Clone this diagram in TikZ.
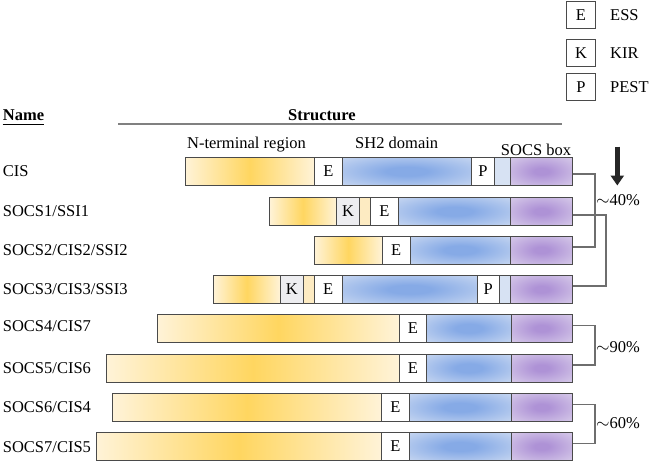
\documentclass[tikz,border=0pt]{standalone}
\usepackage{fontspec}
\setmainfont{Liberation Serif}
\usetikzlibrary{arrows.meta}
\definecolor{yelIn}{HTML}{FFD660}
\definecolor{yelOut}{HTML}{FFF3D8}
\definecolor{bluIn}{HTML}{86AAE6}
\definecolor{bluOut}{HTML}{D9E3F4}
\definecolor{purIn}{HTML}{AE92D6}
\definecolor{purOut}{HTML}{DFD6ED}
\definecolor{edgeC}{HTML}{4A4A4A}
\definecolor{brkC}{HTML}{6E6E6E}
\definecolor{kirC}{HTML}{EDEDF0}
\definecolor{ystripC}{HTML}{FDEBC2}
\definecolor{bstripC}{HTML}{D7E2F3}
\pgfdeclareradialshading{blurad}{\pgfpointorigin}{color(0bp)=(bluIn); color(8bp)=(bluIn); color(44bp)=(bluOut); color(50bp)=(bluOut)}
\pgfdeclareradialshading{purrad}{\pgfpointorigin}{color(0bp)=(purIn); color(6bp)=(purIn); color(42bp)=(purOut); color(50bp)=(purOut)}
\tikzset{
  seg/.style={draw=edgeC, line width=0.9pt, inner sep=0pt, outer sep=0pt, minimum height=28pt, anchor=north west},
  yel/.style={left color=yelOut, right color=yelOut, middle color=yelIn},
  blu/.style={shade, shading=blurad},
  pur/.style={shade, shading=purrad},
  lettbox/.style={fill=white},
  kir/.style={fill=kirC},
  ystrip/.style={fill=ystripC},
  bstrip/.style={fill=bstripC},
  rowlbl/.style={anchor=base west, inner sep=0pt},
  hdr/.style={anchor=base, inner sep=0pt},
  brk/.style={draw=brkC, line width=1.2pt},
  legbox/.style={draw=edgeC, line width=0.9pt, inner sep=0pt, minimum width=28.3pt, minimum height=27.4pt}
}
\newcommand\sgm[6]{\node[seg,#5,minimum width={#3pt-#2pt}] (#1) at (#2,#4) {#6};}
\begin{document}
\begin{tikzpicture}[x=1pt,y=-1pt,font=\fontsize{16.5pt}{19pt}\selectfont]
\useasboundingbox (0,0) rectangle (650,461);
% legend
\node[legbox] (legE) at (581,14.7) {E};
\node[legbox] (legK) at (581,53) {K};
\node[legbox] (legP) at (581,86.8) {P};
\node[rowlbl] (legEt) at (610,20.2) {ESS};
\node[rowlbl] (legKt) at (610,58.5) {KIR};
\node[rowlbl] (legPt) at (610,92.3) {PEST};
% header
\node[rowlbl] (nm) at (2.7,120.5) {\bfseries Name};
\draw[line width=1pt] ([yshift=-3.5pt]nm.base west) -- ([yshift=-3.5pt]nm.base east);
\node[hdr] (st) at (322,120.5) {\bfseries Structure};
\coordinate (hl1) at (118.3,124);
\coordinate (hl2) at (561.7,124);
\draw[draw=black!50, line width=1.5pt] (hl1) -- (hl2);
\node[hdr] (hN) at (246.5,148.8) {N-terminal region};
\node[hdr] (hS) at (396.7,148.5) {SH2 domain};
\node[hdr] (hB) at (536,155.5) {SOCS box};
% row labels
\node[rowlbl] (l1) at (2.7,176.8) {CIS};
\node[rowlbl] (l2) at (2.7,216.8) {SOCS1/SSI1};
\node[rowlbl] (l3) at (2.7,255.5) {SOCS2/CIS2/SSI2};
\node[rowlbl] (l4) at (2.7,294.8) {SOCS3/CIS3/SSI3};
\node[rowlbl] (l5) at (2.7,331.8) {SOCS4/CIS7};
\node[rowlbl] (l6) at (2.7,373.5) {SOCS5/CIS6};
\node[rowlbl] (l7) at (2.7,412.8) {SOCS6/CIS4};
\node[rowlbl] (l8) at (2.7,452.2) {SOCS7/CIS5};
% CIS
\sgm{cisY}{185}{314.5}{157.3}{yel}{}
\sgm{cisE}{314.5}{342.3}{157.3}{lettbox}{E}
\sgm{cisB}{342.3}{471.7}{157.3}{blu}{}
\sgm{cisP}{471.7}{494}{157.3}{lettbox}{P}
\sgm{cisL}{494}{510.7}{157.3}{bstrip}{}
\sgm{cisS}{510.7}{572.5}{157.3}{pur}{}
% SOCS1
\sgm{s1Y}{269.3}{336.7}{197.3}{yel}{}
\sgm{s1K}{336.7}{359.3}{197.3}{kir}{K}
\sgm{s1Ys}{359.3}{370}{197.3}{ystrip}{}
\sgm{s1E}{370}{398.7}{197.3}{lettbox}{E}
\sgm{s1B}{398.7}{510.7}{197.3}{blu}{}
\sgm{s1S}{510.7}{572.5}{197.3}{pur}{}
% SOCS2
\sgm{s2Y}{314.3}{382.3}{236}{yel}{}
\sgm{s2E}{382.3}{410}{236}{lettbox}{E}
\sgm{s2B}{410}{510.7}{236}{blu}{}
\sgm{s2S}{510.7}{572.5}{236}{pur}{}
% SOCS3
\sgm{s3Y}{213.3}{280.3}{275.3}{yel}{}
\sgm{s3K}{280.3}{303.3}{275.3}{kir}{K}
\sgm{s3Ys}{303.3}{314}{275.3}{ystrip}{}
\sgm{s3E}{314}{342.3}{275.3}{lettbox}{E}
\sgm{s3B}{342.3}{477.3}{275.3}{blu}{}
\sgm{s3P}{477.3}{499.3}{275.3}{lettbox}{P}
\sgm{s3L}{499.3}{510.7}{275.3}{bstrip}{}
\sgm{s3S}{510.7}{572.5}{275.3}{pur}{}
% SOCS4
\sgm{s4Y}{157.3}{399}{314.3}{yel}{}
\sgm{s4E}{399}{426.7}{314.3}{lettbox}{E}
\sgm{s4B}{426.7}{511}{314.3}{blu}{}
\sgm{s4S}{511}{572.5}{314.3}{pur}{}
% SOCS5
\sgm{s5Y}{106.7}{399}{354}{yel}{}
\sgm{s5E}{399}{426.7}{354}{lettbox}{E}
\sgm{s5B}{426.7}{511}{354}{blu}{}
\sgm{s5S}{511}{572.5}{354}{pur}{}
% SOCS6
\sgm{s6Y}{112.7}{381.7}{393.3}{yel}{}
\sgm{s6E}{381.7}{409.3}{393.3}{lettbox}{E}
\sgm{s6B}{409.3}{511}{393.3}{blu}{}
\sgm{s6S}{511}{572.5}{393.3}{pur}{}
% SOCS7
\sgm{s7Y}{96}{381.7}{432.5}{yel}{}
\sgm{s7E}{381.7}{409.3}{432.5}{lettbox}{E}
\sgm{s7B}{409.3}{511}{432.5}{blu}{}
\sgm{s7S}{511}{572.5}{432.5}{pur}{}
% brackets
\draw[brk] ([yshift=-2.7pt]cisS.east) -- ++(22.5,0) |- ([yshift=3pt]s2S.east);
\draw[brk] ([yshift=-3.7pt]s1S.east) -- ++(33.5,0) |- ([yshift=3.3pt]s3S.east);
\draw[brk] ([yshift=2.8pt]s4S.east) -- ++(22.5,0) |- ([yshift=3pt]s5S.east);
\draw[brk] ([yshift=3pt]s6S.east) -- ++(22.5,0) |- ([yshift=3.4pt]s7S.east);
\node[rowlbl] (p40) at (596,205.5) {$\sim$40\%};
\node[rowlbl] (p90) at (596,352.2) {$\sim$90\%};
\node[rowlbl] (p60) at (596,428.8) {$\sim$60\%};
% arrow
\coordinate (arrTop) at (617.3,146.5);
\coordinate (arrTip) at (617.3,185.5);
\draw[line width=5pt, draw=black!85, -{Triangle[width=13pt,length=10pt]}] (arrTop) -- (arrTip);
\end{tikzpicture}
\end{document}
